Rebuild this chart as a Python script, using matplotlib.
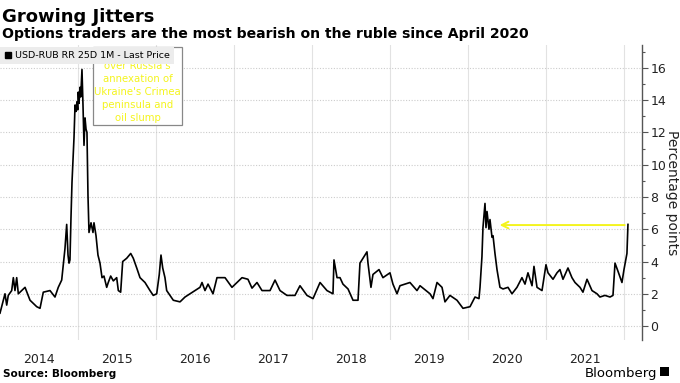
import matplotlib.pyplot as plt
from matplotlib.lines import Line2D
from matplotlib.patches import Rectangle

# data (decimal years, percentage points)
years = [2014.000, 2014.064, 2014.086, 2014.106, 2014.150, 2014.171, 2014.192, 2014.214,
         2014.235, 2014.278, 2014.321, 2014.385, 2014.471, 2014.513, 2014.555, 2014.641,
         2014.705, 2014.747, 2014.791, 2014.833, 2014.855, 2014.872, 2014.885, 2014.897,
         2014.910, 2014.923, 2014.949, 2014.962, 2014.974, 2014.987, 2014.996, 2015.004,
         2015.013, 2015.026, 2015.035, 2015.042, 2015.051, 2015.064, 2015.077, 2015.090,
         2015.103, 2015.115, 2015.128, 2015.141, 2015.167, 2015.192, 2015.205, 2015.231,
         2015.256, 2015.282, 2015.308, 2015.333, 2015.368, 2015.388, 2015.419, 2015.453,
         2015.496, 2015.517, 2015.547, 2015.573, 2015.624, 2015.676, 2015.709, 2015.753,
         2015.795, 2015.859, 2015.923, 2015.965, 2016.009, 2016.042, 2016.064, 2016.086,
         2016.115, 2016.137, 2016.179, 2016.222, 2016.308, 2016.372, 2016.436, 2016.500,
         2016.564, 2016.590, 2016.628, 2016.667, 2016.731, 2016.782, 2016.885, 2016.974,
         2017.103, 2017.179, 2017.231, 2017.295, 2017.359, 2017.462, 2017.526, 2017.590,
         2017.679, 2017.782, 2017.846, 2017.936, 2018.013, 2018.103, 2018.192, 2018.269,
         2018.282, 2018.321, 2018.359, 2018.397, 2018.462, 2018.526, 2018.590, 2018.615,
         2018.654, 2018.705, 2018.718, 2018.756, 2018.782, 2018.859, 2018.910, 2019.000,
         2019.038, 2019.090, 2019.128, 2019.256, 2019.346, 2019.385, 2019.513, 2019.551,
         2019.603, 2019.667, 2019.705, 2019.769, 2019.859, 2019.936, 2020.026, 2020.090,
         2020.141, 2020.154, 2020.179, 2020.192, 2020.218, 2020.231, 2020.244, 2020.269,
         2020.282, 2020.308, 2020.321, 2020.346, 2020.372, 2020.410, 2020.449, 2020.513,
         2020.564, 2020.628, 2020.692, 2020.731, 2020.769, 2020.821, 2020.846, 2020.885,
         2020.949, 2021.000, 2021.026, 2021.090, 2021.141, 2021.179, 2021.218, 2021.282,
         2021.333, 2021.372, 2021.436, 2021.474, 2021.526, 2021.590, 2021.654, 2021.692,
         2021.756, 2021.821, 2021.859, 2021.885, 2021.923, 2021.974, 2022.000, 2022.038,
         2022.051]
rr = [0.8, 2.0, 1.3, 1.9, 2.2, 3.0, 2.2, 3.0,
      2.0, 2.2, 2.4, 1.6, 1.2, 1.1, 2.1, 2.2,
      1.8, 2.4, 2.85, 4.8, 6.3, 4.4, 3.9, 4.1,
      6.7, 8.9, 11.7, 13.7, 13.3, 13.9, 13.4, 14.5,
      13.8, 14.8, 14.2, 15.0, 15.9, 13.7, 11.2, 12.9,
      12.2, 12.0, 8.1, 5.8, 6.4, 5.8, 6.4, 5.6,
      4.4, 3.9, 3.0, 3.1, 2.4, 2.7, 3.1, 2.8,
      3.0, 2.2, 2.1, 4.0, 4.2, 4.5, 4.2, 3.6,
      3.0, 2.7, 2.2, 1.9, 2.0, 3.2, 4.4, 3.6,
      3.0, 2.2, 1.9, 1.6, 1.5, 1.8, 2.0, 2.2,
      2.4, 2.7, 2.2, 2.6, 2.0, 3.0, 3.0, 2.4,
      3.0, 2.9, 2.35, 2.7, 2.2, 2.2, 2.85, 2.2,
      1.9, 1.9, 2.5, 1.9, 1.7, 2.7, 2.2, 2.0,
      4.1, 3.0, 3.0, 2.6, 2.3, 1.6, 1.6, 3.9,
      4.2, 4.6, 3.9, 2.4, 3.2, 3.5, 3.0, 3.3,
      2.6, 2.0, 2.5, 2.7, 2.2, 2.5, 2.0, 1.7,
      2.7, 2.4, 1.5, 1.9, 1.6, 1.1, 1.2, 1.8,
      1.7, 2.4, 4.3, 6.1, 7.6, 6.1, 7.1, 6.0,
      6.6, 5.5, 5.6, 4.5, 3.5, 2.4, 2.3, 2.4,
      2.0, 2.4, 3.0, 2.6, 3.3, 2.5, 3.7, 2.4,
      2.2, 3.8, 3.3, 2.9, 3.3, 3.5, 2.9, 3.6,
      3.0, 2.7, 2.4, 2.1, 2.9, 2.2, 2.0, 1.8,
      1.9, 1.8, 1.9, 3.9, 3.4, 2.7, 3.5, 4.5,
      6.3]

year_labels = ['2014', '2015', '2016', '2017', '2018', '2019', '2020', '2021']
y_ticks = [0, 2, 4, 6, 8, 10, 12, 14, 16]
arrow_from = (2022.045, 6.26)
arrow_to = (2020.37, 6.26)
note = "Sanctions\nover Russia's\nannexation of\nUkraine's Crimea\npeninsula and\noil slump"

yellow = '#f4f41e'

fig = plt.figure(figsize=(6.8, 3.83), dpi=100)
ax = fig.add_axes([0, 0.112, 0.944, 0.771])

ax.plot(years, rr, color='black', linewidth=1.2, zorder=3)

ax.set_xlim(2014.0, 2022.23)
ax.set_ylim(-0.87, 17.43)

# year labels in the middle of each year, grid at year boundaries
ax.set_xticks([int(y) + 0.5 for y in year_labels])
ax.set_xticklabels(year_labels)
ax.set_xticks(range(2015, 2023), minor=True)
ax.tick_params(axis='x', which='both', length=0, pad=9, labelsize=9, colors='#222222')
ax.grid(axis='x', which='minor', color='#e2e2e2', linewidth=0.8)

ax.yaxis.tick_right()
ax.yaxis.set_label_position('right')
ax.set_yticks(y_ticks)
ax.set_yticks(range(0, 18), minor=True)
ax.tick_params(axis='y', which='major', length=4, width=0.8, color='#555555', pad=2,
               labelsize=9, labelcolor='#222222')
ax.tick_params(axis='y', which='minor', length=2, width=0.8, color='#555555')
ax.grid(axis='y', which='major', color='#cccccc', linestyle=(0, (1, 1.5)), linewidth=0.8)
ax.set_ylabel('Percentage points', rotation=270, labelpad=9, fontsize=10, color='#222222')

for s in ['left', 'top', 'bottom']:
    ax.spines[s].set_visible(False)
ax.spines['right'].set_color('#555555')
ax.spines['right'].set_linewidth(1.0)

# annotation box and arrow
ax.text(2015.763, 14.9, note, ha='center', va='center', fontsize=7.3, color=yellow,
        linespacing=1.38, zorder=4,
        bbox=dict(boxstyle='square,pad=0.15', facecolor='white', edgecolor='#888888', linewidth=0.9))
ax.annotate('', xy=arrow_to, xytext=arrow_from,
            arrowprops=dict(arrowstyle='->', color=yellow, linewidth=1.4, mutation_scale=12), zorder=4)

handle = Line2D([], [], color='black', marker='s', linestyle='none', markersize=5)
leg = ax.legend([handle], ['USD-RUB RR 25D 1M - Last Price'], loc='upper left',
                bbox_to_anchor=(0.0, 0.993), fontsize=6.8, frameon=True,
                handlelength=0.8, handletextpad=0.3, borderpad=0.45, borderaxespad=0.0,
                fancybox=False)
leg.get_frame().set_facecolor('#ececec')
leg.get_frame().set_edgecolor('none')
leg.get_frame().set_alpha(1)
leg.set_zorder(6)

fig.text(0.003, 0.9426, 'Growing Jitters', fontsize=13, weight='bold', color='black')
fig.text(0.003, 0.9008, 'Options traders are the most bearish on the ruble since April 2020',
         fontsize=10.1, weight='bold', color='black')
fig.text(0.005, 0.015, 'Source: Bloomberg', fontsize=7.6, weight='bold', color='black')
fig.text(0.966, 0.015, 'Bloomberg', fontsize=9.5, color='black', ha='right')
fig.patches.append(Rectangle((0.971, 0.018), 0.013, 0.024, transform=fig.transFigure,
                             facecolor='black', edgecolor='none'))

fig.savefig('out.png', dpi=100)
